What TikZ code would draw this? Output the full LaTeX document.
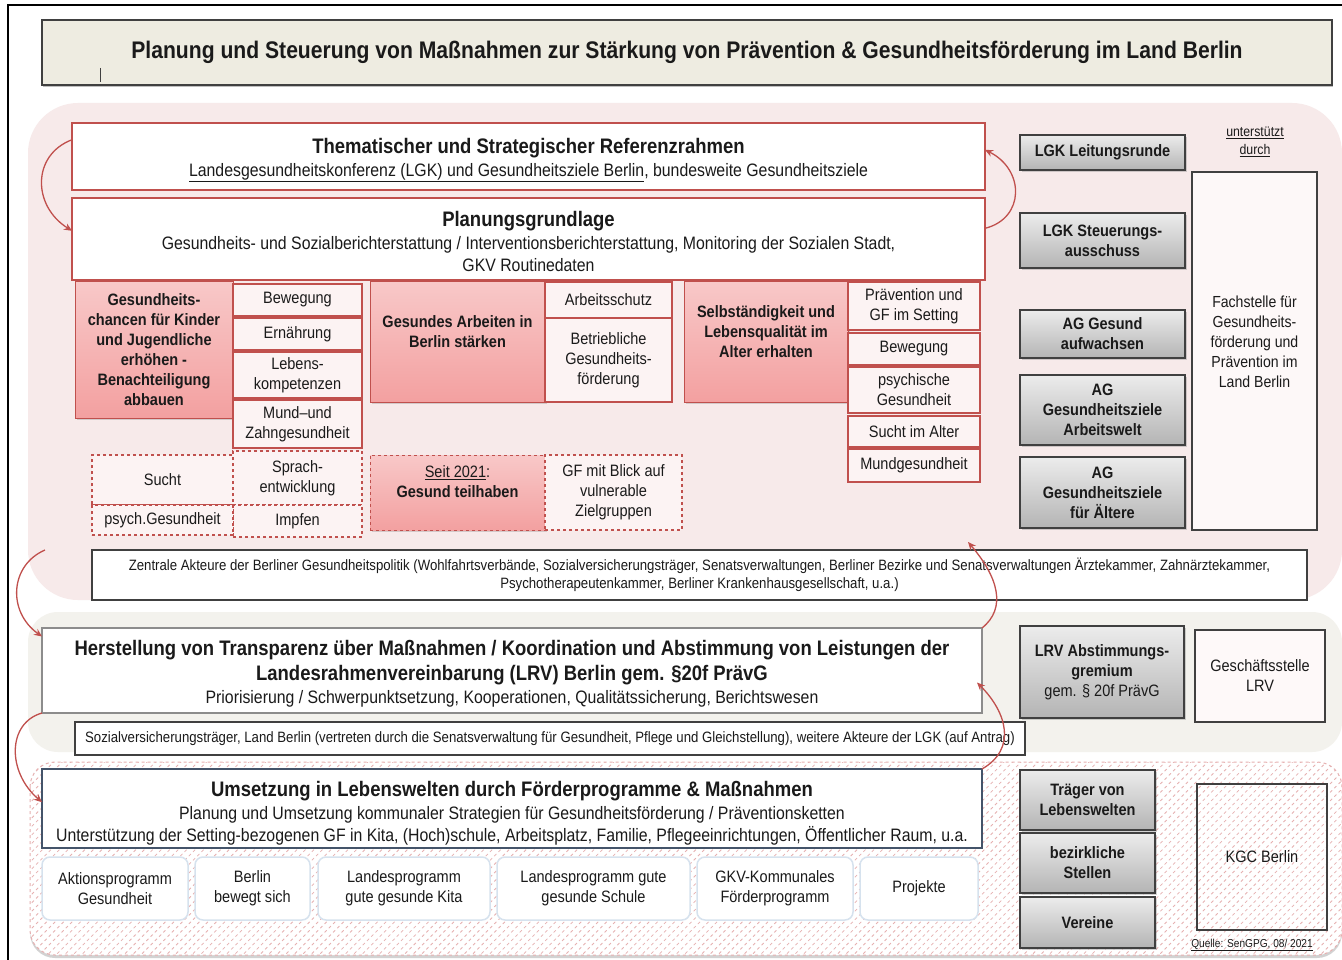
\documentclass[tikz,border=0pt]{standalone}
\usepackage{fontspec}
\setmainfont{Liberation Sans}[FakeStretch=0.88]
\usetikzlibrary{arrows.meta,calc,shadows,patterns.meta}

\definecolor{redline}{RGB}{192,80,77}
\definecolor{pinkbg}{RGB}{247,234,234}
\definecolor{greybg}{RGB}{243,242,237}
\definecolor{titlefill}{RGB}{238,236,225}
\definecolor{pinktop}{RGB}{248,200,200}
\definecolor{pinkbot}{RGB}{243,160,160}
\definecolor{subfill}{RGB}{252,243,243}
\definecolor{greytop}{RGB}{236,236,236}
\definecolor{greybot}{RGB}{180,180,180}
\definecolor{darkline}{RGB}{64,64,64}
\definecolor{midline}{RGB}{140,140,140}
\definecolor{slateline}{RGB}{68,84,106}
\definecolor{progline}{RGB}{214,226,238}
\definecolor{hatchline}{RGB}{230,176,176}
\definecolor{txt}{RGB}{26,26,26}

\newcommand\fsTitle{\fontsize{24}{28}\selectfont}
\newcommand\fsHead{\fontsize{21}{25}\selectfont}
\newcommand\fsSub{\fontsize{18}{22}\selectfont}
\newcommand\fsBox{\fontsize{16.5}{20}\selectfont}
\newcommand\fsFach{\fontsize{16}{20}\selectfont}
\newcommand\fsSmall{\fontsize{15}{18}\selectfont}
\newcommand\fsTiny{\fontsize{14}{18}\selectfont}
\newcommand\headstrut[1]{\rule{0pt}{#1pt}}

\tikzset{
  boxbase/.style={inner sep=0pt, outer sep=0pt, align=center, text=txt},
  redbox/.style={boxbase, draw=redline, line width=1.2pt, fill=white},
  topicbox/.style={boxbase, draw=redline, line width=1pt, top color=pinktop, bottom color=pinkbot,
    drop shadow={shadow xshift=2pt, shadow yshift=-2pt, opacity=0.3}, font=\fsBox\bfseries},
  subbox/.style={boxbase, draw=redline, line width=1.2pt, fill=subfill, font=\fsBox},
  dashbox/.style={subbox, dashed},
  greybox/.style={boxbase, draw=darkline, line width=1.2pt, top color=greytop, bottom color=greybot,
    drop shadow={shadow xshift=2pt, shadow yshift=-2pt, opacity=0.35}, font=\fsBox\bfseries},
  plainbox/.style={boxbase, draw=darkline, line width=1.2pt, fill=white},
  progbox/.style={boxbase, draw=progline, line width=1.5pt, fill=white, rounded corners=8pt, font=\fsBox},
  cycarrow/.style={redline, line width=1.3pt, -{Stealth[length=8pt,width=7pt]}},
}

\begin{document}
\begin{tikzpicture}[x=1pt,y=-1pt]
\useasboundingbox (0,0) rectangle (1342,960);
\fill[white] (0,0) rectangle (1342,960);

%Shape: Frame
\draw[black, line width=1.2pt] (8,960) -- (8,5) -- (1342,5);

%Shape: Title
\node[boxbase, draw=darkline, line width=1.5pt, fill=titlefill, drop shadow={shadow xshift=1pt, shadow yshift=-2pt, opacity=0.5},
  minimum width=1290pt, minimum height=65pt, font=\fsTitle\bfseries] (titel) at (687,52.5)
  {Planung und Steuerung von Maßnahmen zur Stärkung von Prävention \& Gesundheitsförderung im Land Berlin};
\draw[darkline, line width=0.8pt] (100,68) -- (100,82);

%Shape: Background areas
\fill[pinkbg, rounded corners=50pt] (28,103) rectangle (1342,600);
\fill[greybg, rounded corners=30pt] (28,612) rectangle (1342,752);
\draw[hatchline, dashed, line width=1pt, rounded corners=25pt, fill=white,
  drop shadow={shadow xshift=0pt, shadow yshift=-3pt, opacity=0.35},
  postaction={pattern={Lines[angle=45,distance=6pt,line width=0.8pt]}, pattern color=hatchline}]
  (30,762) rectangle (1342,955);

%Shape: Referenzrahmen
\node[redbox, minimum width=913pt, minimum height=67pt, font=\fsSub] (thema) at (528.5,156.5)
  {{\fsHead\bfseries\headstrut{22}Thematischer und Strategischer Referenzrahmen}\\[1pt]
   \underline{Landesgesundheitskonferenz (LGK) und Gesundheitsziele Berlin}, bundesweite Gesundheitsziele};
\node[redbox, minimum width=913pt, minimum height=82pt, font=\fsSub] (plan) at (528.5,239)
  {{\fsHead\bfseries\headstrut{21}Planungsgrundlage}\\[1pt]
   Gesundheits- und Sozialberichterstattung / Interventionsberichterstattung, Monitoring der Sozialen Stadt,\\
   GKV Routinedaten};

%Shape: LGK Gremien
\node[greybox, minimum width=165pt, minimum height=35pt] (leitung) at (1102.5,152.5) {LGK Leitungsrunde};
\node[greybox, minimum width=165pt, minimum height=55pt] (steuer) at (1102.5,240.5) {LGK Steuerungs-\\ausschuss};
\node[greybox, minimum width=165pt, minimum height=48pt] (agauf) at (1102.5,334) {AG Gesund\\aufwachsen};
\node[greybox, minimum width=165pt, minimum height=70pt] (agarb) at (1102.5,410) {AG\\Gesundheitsziele\\Arbeitswelt};
\node[greybox, minimum width=165pt, minimum height=71pt] (agalt) at (1102.5,492.5) {AG\\Gesundheitsziele\\für Ältere};

% Text Node
\node[boxbase, font=\fsTiny] (unterst) at (1255,142) {\underline{unterstützt}\\\underline{durch}};
\node[boxbase, draw=darkline, line width=1.2pt, fill=subfill!60, minimum width=125pt, minimum height=358pt] (fach) at (1254.5,351) {};
\node[boxbase, font=\fsFach] (fach-t) at (1254.5,342) {Fachstelle für\\Gesundheits-\\förderung und\\Prävention im\\Land Berlin};

%Shape: Gesundheitsziel Kinder
\node[topicbox, minimum width=158pt, minimum height=136pt] (kinder) at (154,350)
  {Gesundheits-\\chancen für Kinder\\und Jugendliche\\erhöhen -\\Benachteiligung\\abbauen};
\node[subbox, minimum width=129pt, minimum height=32pt] (bew1) at (297.5,300) {Bewegung};
\node[subbox, minimum width=129pt, minimum height=32pt] (ern) at (297.5,334) {Ernährung};
\node[subbox, minimum width=129pt, minimum height=46pt] (leb) at (297.5,375) {Lebens-\\kompetenzen};
\node[subbox, minimum width=129pt, minimum height=48pt] (mund1) at (297.5,424) {Mund–und\\Zahngesundheit};
\node[dashbox, minimum width=129pt, minimum height=54pt] (sprach) at (297.5,478) {Sprach-\\entwicklung};
\node[dashbox, minimum width=129pt, minimum height=32pt] (impf) at (297.5,521) {Impfen};
\node[dashbox, minimum width=141pt, minimum height=50pt] (sucht1) at (162.5,480) {Sucht};
\node[dashbox, minimum width=141pt, minimum height=30pt] (psych1) at (162.5,520) {psych.Gesundheit};

%Shape: Gesundheitsziel Arbeit
\node[topicbox, minimum width=175pt, minimum height=120pt] (arbeit) at (457.5,342) {};
\node[boxbase, font=\fsBox\bfseries] (arbeit-t) at (457.5,331.5) {Gesundes Arbeiten in\\Berlin stärken};
\node[subbox, minimum width=127pt, minimum height=36pt] (schutz) at (608.5,300) {Arbeitsschutz};
\node[subbox, minimum width=127pt, minimum height=84pt] (bgf) at (608.5,360) {Betriebliche\\Gesundheits-\\förderung};
\node[topicbox, dashed, minimum width=175pt, minimum height=75pt] (teilhabe) at (457.5,492.5) {};
\node[boxbase, font=\fsBox\bfseries] (teilhabe-t) at (457.5,481.5) {{\mdseries\underline{Seit 2021}:}\\Gesund teilhaben};
\node[dashbox, minimum width=137pt, minimum height=75pt] (vulner) at (613.5,492.5) {GF mit Blick auf\\vulnerable\\Zielgruppen};

%Shape: Gesundheitsziel Alter
\node[topicbox, minimum width=164pt, minimum height=120pt] (alter) at (766,342) {};
\node[boxbase, font=\fsBox\bfseries] (alter-t) at (766,332) {Selbständigkeit und\\Lebensqualität im\\Alter erhalten};
\node[subbox, minimum width=132pt, minimum height=48pt] (setting) at (914,306) {Prävention und\\GF im Setting};
\node[subbox, minimum width=132pt, minimum height=32pt] (bew3) at (914,349) {Bewegung};
\node[subbox, minimum width=132pt, minimum height=46pt] (psych3) at (914,390) {psychische\\Gesundheit};
\node[subbox, minimum width=132pt, minimum height=31pt] (sucht3) at (914,431.5) {Sucht im Alter};
\node[subbox, minimum width=132pt, minimum height=33pt] (mund3) at (914,465.5) {Mundgesundheit};

%Shape: Akteure
\node[plainbox, minimum width=1215pt, minimum height=50pt, font=\fsSmall] (akteure) at (699.5,575)
  {Zentrale Akteure der Berliner Gesundheitspolitik (Wohlfahrtsverbände, Sozialversicherungsträger, Senatsverwaltungen, Berliner Bezirke und Senatsverwaltungen Ärztekammer, Zahnärztekammer,\\
   Psychotherapeutenkammer, Berliner Krankenhausgesellschaft, u.a.)};

%Shape: LRV
\node[boxbase, draw=midline, line width=1.2pt, fill=white, minimum width=940pt, minimum height=85pt, font=\fsSub] (herst) at (512,670.5)
  {{\fsHead\bfseries\headstrut{21}Herstellung von Transparenz über Maßnahmen / Koordination und Abstimmung von Leistungen der}\\[3pt]
   {\fsHead\bfseries Landesrahmenvereinbarung (LRV) Berlin gem. §20f PrävG}\\[1pt]
   Priorisierung / Schwerpunktsetzung, Kooperationen, Qualitätssicherung, Berichtswesen};
\node[greybox, minimum width=164pt, minimum height=92pt] (lrv) at (1102,672) {LRV Abstimmungs-\\gremium\\{\mdseries gem. § 20f PrävG}};
\node[boxbase, draw=darkline, line width=1.2pt, fill=subfill!50, minimum width=130pt, minimum height=92pt, font=\fsBox] (gesch) at (1260,676) {Geschäftsstelle\\LRV};
\node[plainbox, minimum width=950pt, minimum height=33pt, font=\fsSmall] (sozial) at (550,738.5)
  {Sozialversicherungsträger, Land Berlin (vertreten durch die Senatsverwaltung für Gesundheit, Pflege und Gleichstellung), weitere Akteure der LGK (auf Antrag)};

%Shape: Lebenswelten
\node[boxbase, draw=slateline, line width=1.5pt, fill=white, minimum width=940pt, minimum height=79pt, font=\fsSub] (umsetz) at (512,808.5)
  {{\fsHead\bfseries\headstrut{25}Umsetzung in Lebenswelten durch Förderprogramme \& Maßnahmen}\\[1pt]
   Planung und Umsetzung kommunaler Strategien für Gesundheitsförderung / Präventionsketten\\
   Unterstützung der Setting-bezogenen GF in Kita, (Hoch)schule, Arbeitsplatz, Familie, Pflegeeinrichtungen, Öffentlicher Raum, u.a.};
\node[progbox, minimum width=146pt, minimum height=63pt] (prog1) at (115,888.5) {Aktionsprogramm\\Gesundheit};
\node[progbox, minimum width=115pt, minimum height=63pt] (prog2) at (252.5,888.5) {Berlin\\bewegt sich};
\node[progbox, minimum width=172pt, minimum height=63pt] (prog3) at (404,888.5) {Landesprogramm\\gute gesunde Kita};
\node[progbox, minimum width=193pt, minimum height=63pt] (prog4) at (593.5,888.5) {Landesprogramm gute\\gesunde Schule};
\node[progbox, minimum width=156pt, minimum height=63pt] (prog5) at (775,888.5) {GKV-Kommunales\\Förderprogramm};
\node[progbox, minimum width=118pt, minimum height=63pt] (prog6) at (919,888.5) {Projekte};

\node[greybox, minimum width=135pt, minimum height=60pt] (traeger) at (1087.5,800) {Träger von\\Lebenswelten};
\node[greybox, minimum width=135pt, minimum height=60pt] (bezirk) at (1087.5,863) {bezirkliche\\Stellen};
\node[greybox, minimum width=135pt, minimum height=51pt] (verein) at (1087.5,922.5) {Vereine};
\node[boxbase, draw=darkline, line width=1.2pt, minimum width=130pt, minimum height=146pt, font=\fsBox] (kgc) at (1262,857) {KGC Berlin};
% Text Node
\node[boxbase, font=\fontsize{11.5}{13}\selectfont] (quelle) at (1252,945) {\underline{Quelle: SenGPG, 08/ 2021}};

%Curve Lines
\coordinate (pinkout) at (45,550);
\coordinate (pinkin) at (968,542);
\draw[cycarrow] ($(thema.north west)!0.25!(thema.south west)$) .. controls +(-40,15) and +(-40,-25) .. ($(plan.north west)!0.4!(plan.south west)$);
\draw[cycarrow] ($(plan.north east)!0.37!(plan.south east)$) .. controls +(40,-10) and +(40,20) .. ($(thema.north east)!0.4!(thema.south east)$);
\draw[cycarrow] (pinkout) .. controls +(-35,15) and +(-35,-25) .. ($(herst.north west)!0.1!(herst.south west)$);
\draw[cycarrow] (herst.north east) .. controls +(25,-20) and +(30,35) .. (pinkin);
\draw[cycarrow] (herst.south west) .. controls +(-35,10) and +(-35,-30) .. ($(umsetz.north west)!0.42!(umsetz.south west)$);
\draw[cycarrow] (umsetz.north east) .. controls +(35,-20) and +(30,30) .. ($(herst.east)+(-5,12)$);

\end{tikzpicture}
\end{document}
